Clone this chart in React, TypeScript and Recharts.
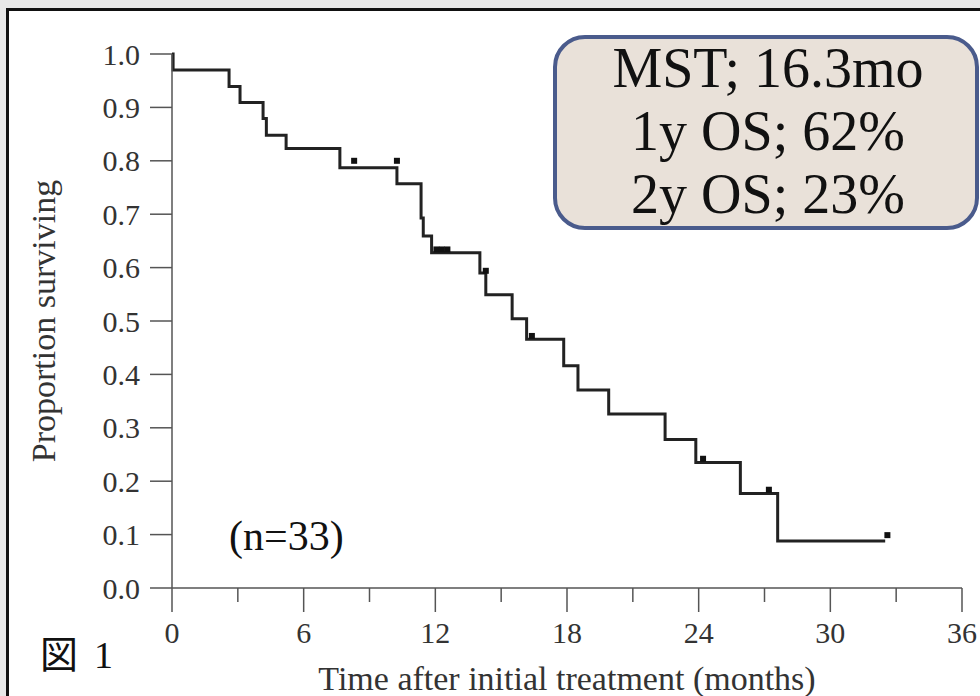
import React from "react";
import {
  ComposedChart,
  Line,
  Scatter,
  XAxis,
  YAxis,
} from "recharts";

// Kaplan-Meier steps (months, proportion surviving)
const stepMonths = [0, 0.05, 2.6, 3.1, 4.15, 4.3, 5.2, 7.65, 10.25, 11.35, 11.45, 11.83, 14.03, 14.3, 15.5, 16.16, 17.85, 18.5, 19.9, 22.47, 23.87, 25.9, 27.6, 32.5];
const stepSurvival = [1.0, 0.97, 0.939, 0.909, 0.879, 0.848, 0.823, 0.787, 0.757, 0.693, 0.659, 0.628, 0.59, 0.549, 0.504, 0.466, 0.416, 0.371, 0.326, 0.278, 0.235, 0.177, 0.088, 0.088];

// censored cases (tick marks)
const censorMonths = [8.3, 10.25, 12.05, 12.3, 12.55, 14.3, 16.4, 24.2, 27.2, 32.6];
const censorSurvival = [0.8, 0.8, 0.634, 0.634, 0.634, 0.594, 0.472, 0.242, 0.184, 0.099];

const xTicks = [0, 3, 6, 9, 12, 15, 18, 21, 24, 27, 30, 33, 36];
const yTicks = [0, 0.1, 0.2, 0.3, 0.4, 0.5, 0.6, 0.7, 0.8, 0.9, 1.0];

const summaryLines = ["MST; 16.3mo", "1y OS; 62%", "2y OS; 23%"];

const curve = stepMonths.map((t, i) => ({ t, s: stepSurvival[i] }));
const censored = censorMonths.map((t, i) => ({ t, s: censorSurvival[i] }));

const serif = "'Liberation Serif', 'Times New Roman', serif";
const axisGrey = "#555";

const XTick = (props: any) => {
  const { x, y, payload } = props;
  const major = payload.value % 6 === 0;
  return (
    <g>
      <line x1={x} x2={x} y1={y} y2={y + (major ? 24 : 14)} stroke={axisGrey} strokeWidth={1.5} />
      {major && (
        <text x={x} y={y + 55} textAnchor="middle" fontSize={30} fill="#333" fontFamily={serif}>
          {payload.value}
        </text>
      )}
    </g>
  );
};

const CensorMark = (p: any) => (
  <rect x={p.cx - 3} y={p.cy - 3} width={6} height={6} fill="#111" />
);

export default function App() {
  return (
    <div
      style={{
        position: "fixed",
        left: 0,
        top: 0,
        width: 980,
        height: 696,
        background: "#e8e8e8",
        overflow: "hidden",
      }}
    >
      <div
        style={{
          position: "absolute",
          left: 6,
          top: 8,
          width: 1000,
          height: 720,
          border: "3px solid #111",
          background: "#fff",
        }}
      />
      <div style={{ position: "absolute", left: 0, top: 0 }}>
        <ComposedChart
          width={980}
          height={696}
          margin={{ top: 54, right: 18, bottom: 0, left: 0 }}
        >
          <XAxis
            type="number"
            dataKey="t"
            domain={[0, 36]}
            ticks={xTicks}
            interval={0}
            tickSize={0}
            tickMargin={0}
            tickLine={false}
            tick={<XTick />}
            height={108}
            stroke={axisGrey}
            strokeWidth={1.5}
            label={{
              value: "Time after initial treatment (months)",
              position: "insideBottom",
              offset: 6,
              fontSize: 34,
              fill: "#333",
              fontFamily: serif,
            }}
          />
          <YAxis
            type="number"
            domain={[0, 1]}
            ticks={yTicks}
            interval={0}
            width={172}
            tickSize={22}
            tickMargin={10}
            tickFormatter={(v: number) => v.toFixed(1)}
            tick={{ fontSize: 30, fill: "#333", fontFamily: serif }}
            stroke={axisGrey}
            strokeWidth={1.5}
            label={{
              value: "Proportion surviving",
              angle: -90,
              position: "insideLeft",
              offset: 43,
              textAnchor: "middle",
              fontSize: 34,
              fill: "#333",
              fontFamily: serif,
            }}
          />
          <Line
            data={curve}
            dataKey="s"
            type="stepAfter"
            stroke="#222"
            strokeWidth={3}
            dot={false}
            activeDot={false}
            isAnimationActive={false}
          />
          <Scatter
            data={censored}
            dataKey="s"
            shape={<CensorMark />}
            isAnimationActive={false}
          />
        </ComposedChart>
      </div>
      <svg
        width={980}
        height={696}
        style={{ position: "absolute", left: 0, top: 0, pointerEvents: "none" }}
      >
        <rect x={555} y={37} width={422} height={191} rx={30} fill="#e9e1d9" stroke="#4a5b8c" strokeWidth={4} />
        {summaryLines.map((line, i) => (
          <text key={line} x={768} y={87 + i * 63} textAnchor="middle" fontSize={56} fill="#111" fontFamily={serif}>
            {line}
          </text>
        ))}
        <text x={229} y={550} fontSize={42} fill="#111" fontFamily={serif}>
          (n=33)
        </text>
        <text x={40} y={668} fontSize={38} fill="#111">
          <tspan fontFamily="'Noto Sans CJK JP', sans-serif">図</tspan>
          <tspan fontFamily={serif} dx={16}>1</tspan>
        </text>
      </svg>
    </div>
  );
}
